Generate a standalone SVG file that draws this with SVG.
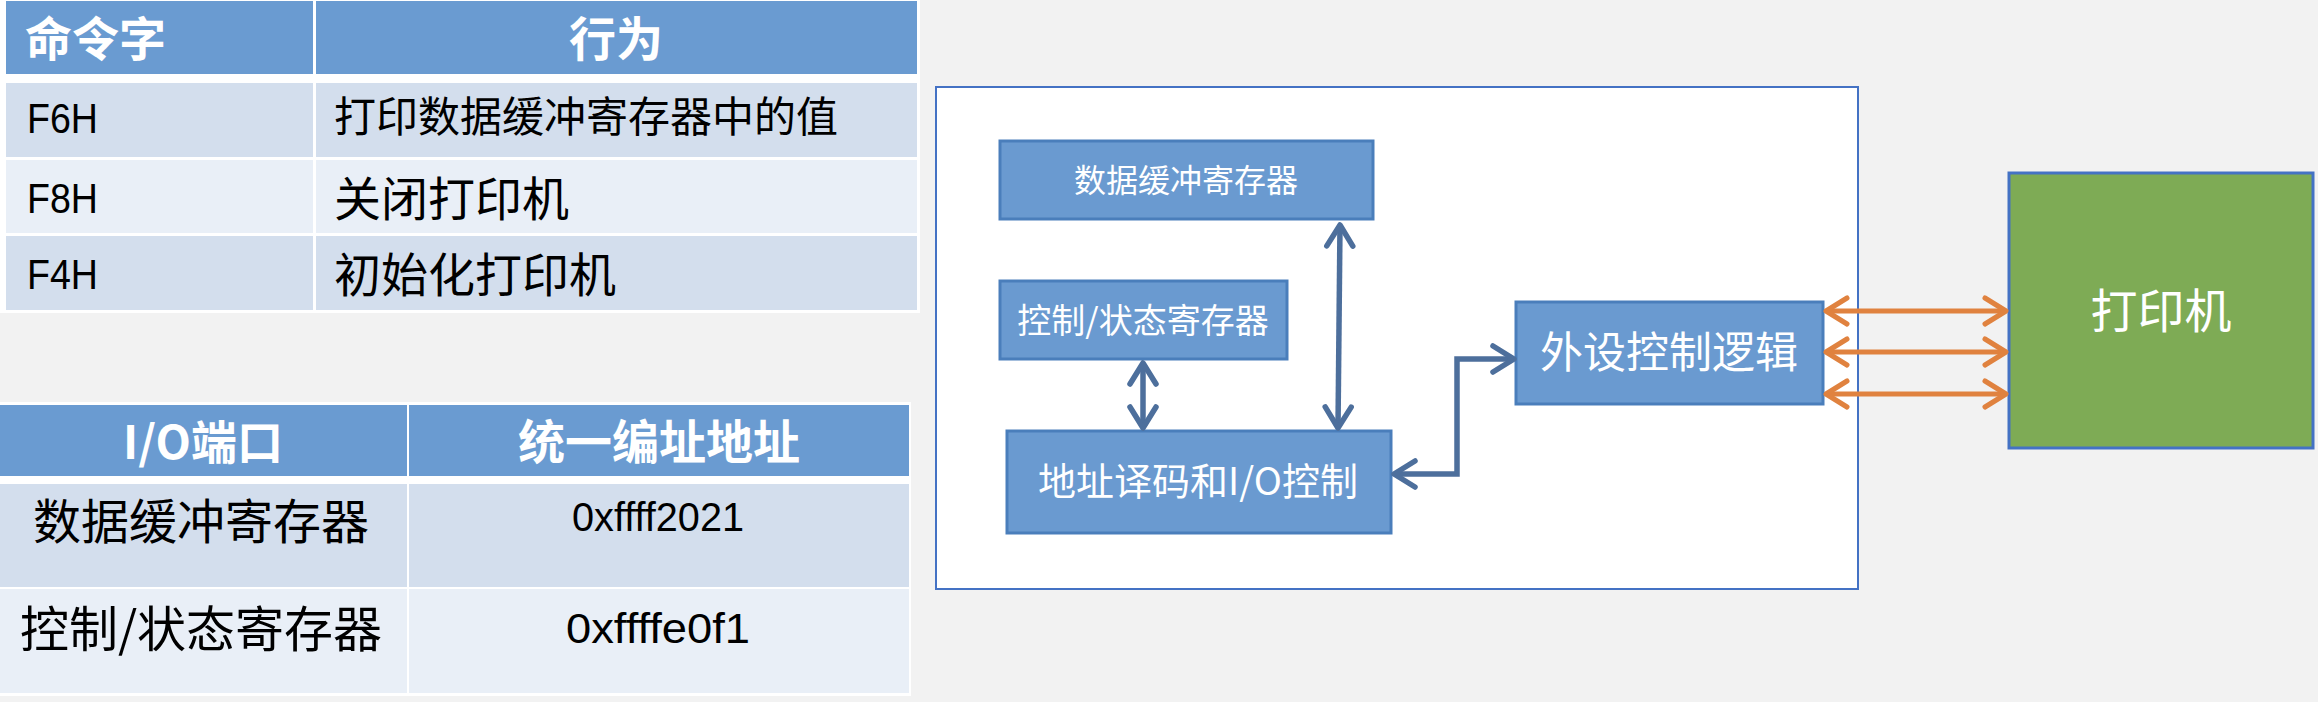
<svg xmlns="http://www.w3.org/2000/svg" width="2318" height="702" viewBox="0 0 2318 702">
<style>
.hd{fill:#6A9BD1}
.rd{fill:#D3DEED}
.rl{fill:#E9EFF7}
.cjk{font-family:"Noto Sans CJK SC","Noto Sans",sans-serif}
.lat{font-family:"Liberation Sans",Arial,sans-serif}
.hdt{fill:#FFFFFF;font-weight:bold}
.blk{fill:#000000}
.node{fill:#6A9AD0;stroke:#4A7EBB;stroke-width:3}
.nt{fill:#FFFFFF;text-anchor:middle}
.cb{fill:none;stroke:#4D6F9C;stroke-width:5.5}
.co{fill:none;stroke:#E0823F;stroke-width:5}
</style>
<defs>
<marker id="ab" markerUnits="userSpaceOnUse" orient="auto-start-reverse" viewBox="-30 -20 40 40" refX="0" refY="0" markerWidth="40" markerHeight="40" overflow="visible">
<path d="M-21,-13 L0,0 L-21,13" fill="none" stroke="#4D6F9C" stroke-width="5.5" stroke-linecap="round" stroke-linejoin="round"/>
</marker>
<marker id="ao" markerUnits="userSpaceOnUse" orient="auto-start-reverse" viewBox="-30 -20 40 40" refX="0" refY="0" markerWidth="40" markerHeight="40" overflow="visible">
<path d="M-21,-13 L0,0 L-21,13" fill="none" stroke="#E0823F" stroke-width="5" stroke-linecap="round" stroke-linejoin="round"/>
</marker>
</defs>
<rect x="0" y="0" width="2318" height="702" fill="#F2F2F2"/>

<g id="table-commands">
<rect x="0" y="0" width="920" height="313" fill="#FFFFFF"/>
<rect class="hd" x="6" y="1" width="307" height="73"/>
<rect class="hd" x="316" y="1" width="601" height="73"/>
<rect class="rd" x="6" y="83" width="307" height="74"/>
<rect class="rd" x="316" y="83" width="601" height="74"/>
<rect class="rl" x="6" y="160" width="307" height="73"/>
<rect class="rl" x="316" y="160" width="601" height="73"/>
<rect class="rd" x="6" y="236" width="307" height="74"/>
<rect class="rd" x="316" y="236" width="601" height="74"/>
<text class="cjk hdt" x="25" y="56" font-size="47">命令字</text>
<text class="cjk hdt" x="616" y="56" font-size="47" text-anchor="middle">行为</text>
<text class="lat blk" x="27" y="133" font-size="42" textLength="71" lengthAdjust="spacingAndGlyphs">F6H</text>
<text class="lat blk" x="27" y="213" font-size="42" textLength="71" lengthAdjust="spacingAndGlyphs">F8H</text>
<text class="lat blk" x="27" y="289" font-size="42" textLength="71" lengthAdjust="spacingAndGlyphs">F4H</text>
<text class="cjk blk" x="334" y="132" font-size="42">打印数据缓冲寄存器中的值</text>
<text class="cjk blk" x="334" y="216" font-size="47">关闭打印机</text>
<text class="cjk blk" x="334" y="292" font-size="47">初始化打印机</text>
</g>

<g id="table-addresses">
<rect x="0" y="402" width="911" height="294" fill="#FFFFFF"/>
<rect class="hd" x="0" y="405" width="407" height="71"/>
<rect class="hd" x="409" y="405" width="500" height="71"/>
<rect class="rd" x="0" y="484" width="407" height="103"/>
<rect class="rd" x="409" y="484" width="500" height="103"/>
<rect class="rl" x="0" y="589" width="407" height="104"/>
<rect class="rl" x="409" y="589" width="500" height="104"/>
<text class="cjk hdt" x="203" y="459" font-size="46" text-anchor="middle">I/O端口</text>
<text class="cjk hdt" x="659" y="459" font-size="47" text-anchor="middle">统一编址地址</text>
<text class="cjk blk" x="201" y="539" font-size="48" text-anchor="middle">数据缓冲寄存器</text>
<text class="cjk blk" x="201" y="647" font-size="49" text-anchor="middle">控制/状态寄存器</text>
<text class="lat blk" x="658" y="531" font-size="40" text-anchor="middle" textLength="172" lengthAdjust="spacingAndGlyphs">0xffff2021</text>
<text class="lat blk" x="658" y="643" font-size="42" text-anchor="middle" textLength="184" lengthAdjust="spacingAndGlyphs">0xffffe0f1</text>
</g>

<g id="interface-frame">
<rect x="936" y="87" width="922" height="502" fill="#FFFFFF" stroke="#4472C4" stroke-width="2"/>
</g>

<g id="node-data-buffer">
<rect class="node" x="1000" y="141" width="373" height="78"/>
<text class="cjk nt" x="1186" y="192" font-size="32">数据缓冲寄存器</text>
</g>
<g id="node-ctrl-status">
<rect class="node" x="1000" y="281" width="287" height="78"/>
<text class="cjk nt" x="1143" y="333" font-size="34">控制/状态寄存器</text>
</g>
<g id="node-addr-decode">
<rect class="node" x="1007" y="431" width="384" height="102"/>
<text class="cjk nt" x="1198" y="495" font-size="38">地址译码和I/O控制</text>
</g>
<g id="node-periph-ctrl">
<rect class="node" x="1516" y="302" width="307" height="102"/>
<text class="cjk nt" x="1669" y="368" font-size="43">外设控制逻辑</text>
</g>
<g id="node-printer">
<rect x="2009" y="173" width="304" height="275" fill="#7EAB55" stroke="#4472C4" stroke-width="3"/>
<text class="cjk nt" x="2161" y="328" font-size="47">打印机</text>
</g>

<g id="connectors">
<line class="cb" x1="1143" y1="363" x2="1143" y2="428" marker-start="url(#ab)" marker-end="url(#ab)"/>
<line class="cb" x1="1340" y1="225" x2="1338" y2="428" marker-start="url(#ab)" marker-end="url(#ab)"/>
<path class="cb" d="M1394,474 H1457 V359 H1514" marker-start="url(#ab)" marker-end="url(#ab)"/>
<line class="co" x1="1826" y1="311" x2="2006" y2="311" marker-start="url(#ao)" marker-end="url(#ao)"/>
<line class="co" x1="1826" y1="352" x2="2006" y2="352" marker-start="url(#ao)" marker-end="url(#ao)"/>
<line class="co" x1="1826" y1="394" x2="2006" y2="394" marker-start="url(#ao)" marker-end="url(#ao)"/>
</g>
</svg>
